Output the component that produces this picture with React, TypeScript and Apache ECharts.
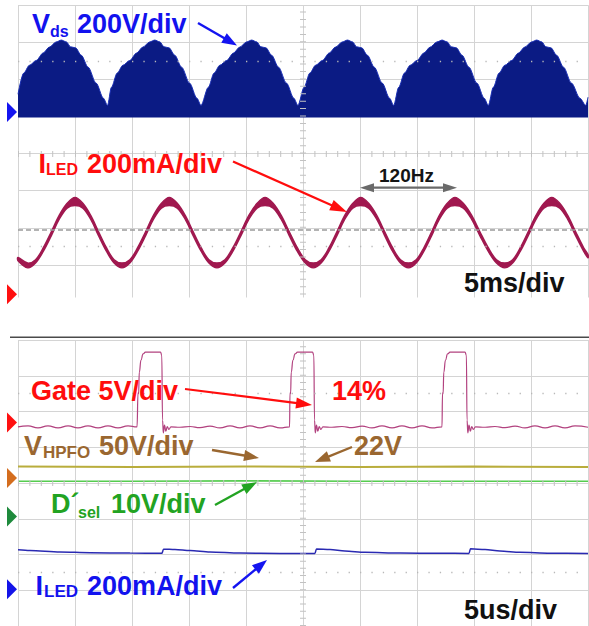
import React, { useEffect, useRef } from "react";
import * as echarts from "echarts";

const W = 589;
const H = 626;

// ---------- top screen: 5 ms/div, values in divisions from the screen bottom ----------
const vdsTime = [
  0, 0.5, 1.0, 1.6, 2.2, 2.75, 3.35, 3.8, 4.25, 4.6, 5.05, 5.55, 6.15, 6.85, 7.5, 7.85,
  8.2, 8.7, 9.2, 9.8, 10.4, 10.95, 11.55, 12.0, 12.45, 12.8, 13.25, 13.75, 14.35, 15.05, 15.7, 16.05,
  16.7, 17.2, 17.7, 18.3, 18.9, 19.45, 20.05, 20.5, 20.95, 21.3, 21.75, 22.25, 22.85, 23.55, 24.2, 24.55,
  25.1, 25.6, 26.1, 26.7, 27.3, 27.85, 28.45, 28.9, 29.35, 29.7, 30.15, 30.65, 31.25, 31.95, 32.6, 32.95,
  33.4, 33.9, 34.4, 35.0, 35.6, 36.15, 36.75, 37.2, 37.65, 38.0, 38.45, 38.95, 39.55, 40.25, 40.9, 41.25,
  41.7, 42.2, 42.7, 43.3, 43.9, 44.45, 45.05, 45.5, 45.95, 46.3, 46.75, 47.25, 47.85, 48.55, 49.3, 49.8, 50,
];
const vdsEnvelope = [
  5.6, 6.17, 6.38, 6.51, 6.71, 6.87, 7.01, 7.06, 7.01, 6.88, 6.85, 6.65, 6.33, 5.9, 5.49, 5.3,
  5.79, 6.17, 6.38, 6.51, 6.71, 6.87, 7.01, 7.06, 7.01, 6.88, 6.85, 6.65, 6.33, 5.9, 5.49, 5.3,
  5.79, 6.17, 6.38, 6.51, 6.71, 6.87, 7.01, 7.06, 7.01, 6.88, 6.85, 6.65, 6.33, 5.9, 5.49, 5.3,
  5.79, 6.17, 6.38, 6.51, 6.71, 6.87, 7.01, 7.06, 7.01, 6.88, 6.85, 6.65, 6.33, 5.9, 5.49, 5.3,
  5.79, 6.17, 6.38, 6.51, 6.71, 6.87, 7.01, 7.06, 7.01, 6.88, 6.85, 6.65, 6.33, 5.9, 5.49, 5.3,
  5.79, 6.17, 6.38, 6.51, 6.71, 6.87, 7.01, 7.06, 7.01, 6.88, 6.85, 6.65, 6.33, 5.9, 5.49, 5.3, 5.52,
];
const VDS_BASE = 4.97;

const iledTime = [
  0, 0.85,
  1.54, 2.23, 2.93, 3.62, 4.31, 5.0, 5.69, 6.37, 7.06, 7.75, 8.43, 9.12,
  9.81, 10.5, 11.2, 11.89, 12.58, 13.27, 13.97, 14.66, 15.36, 16.06, 16.75, 17.45,
  18.15, 18.86, 19.56, 20.26, 20.97, 21.67, 22.38, 23.08, 23.79, 24.49, 25.2, 25.9,
  26.59, 27.29, 27.98, 28.67, 29.37, 30.06, 30.76, 31.46, 32.16, 32.85, 33.55, 34.25,
  34.93, 35.61, 36.29, 36.97, 37.65, 38.33, 39.06, 39.79, 40.51, 41.24, 41.97, 42.7,
  43.39, 44.07, 44.76, 45.45, 46.13, 46.82,
  47.52, 48.21, 48.91, 49.61, 50.0,
];
const iledUpper = [
  1.2, 1.05,
  1.14, 1.47, 1.9, 2.34, 2.66, 2.82, 2.66, 2.34, 1.9, 1.47, 1.14, 1.05,
  1.14, 1.47, 1.9, 2.34, 2.66, 2.82, 2.66, 2.34, 1.9, 1.47, 1.14, 1.05,
  1.14, 1.47, 1.9, 2.34, 2.66, 2.82, 2.66, 2.34, 1.9, 1.47, 1.14, 1.05,
  1.14, 1.47, 1.9, 2.34, 2.66, 2.82, 2.66, 2.34, 1.9, 1.47, 1.14, 1.05,
  1.14, 1.47, 1.9, 2.34, 2.66, 2.82, 2.66, 2.34, 1.9, 1.47, 1.14, 1.05,
  1.14, 1.47, 1.9, 2.34, 2.66, 2.82,
  2.66, 2.34, 1.9, 1.47, 1.28,
];
const iledLower = [
  1.11, 0.92,
  1.05, 1.37, 1.79, 2.23, 2.53, 2.6, 2.53, 2.23, 1.79, 1.37, 1.05, 0.92,
  1.05, 1.37, 1.79, 2.23, 2.53, 2.6, 2.53, 2.23, 1.79, 1.37, 1.05, 0.92,
  1.05, 1.37, 1.79, 2.23, 2.53, 2.6, 2.53, 2.23, 1.79, 1.37, 1.05, 0.92,
  1.05, 1.37, 1.79, 2.23, 2.53, 2.6, 2.53, 2.23, 1.79, 1.37, 1.05, 0.92,
  1.05, 1.37, 1.79, 2.23, 2.53, 2.6, 2.53, 2.23, 1.79, 1.37, 1.05, 0.92,
  1.05, 1.37, 1.79, 2.23, 2.53, 2.6,
  2.53, 2.23, 1.79, 1.37, 1.19,
];
const ILED_REF_LEVEL = 1.96;

// ---------- bottom screen: 5 us/div ----------
const gateTime = [
  0, 0.88, 1.75, 2.63, 3.51, 4.39, 5.26, 6.14, 7.02, 7.89, 8.77, 9.65, 10.44,
  10.53, 10.58, 10.64, 10.79, 10.97, 11.18, 12.5, 12.61, 12.68, 12.75, 12.85, 12.97, 13.09, 13.23, 13.42,
  14.21, 15.09, 15.96, 16.84, 17.72, 18.6, 19.47, 20.35, 21.23, 22.11, 22.98, 23.82,
  23.86, 23.91, 23.97, 24.12, 24.3, 24.52, 25.83, 25.95, 26.01, 26.08, 26.18, 26.3, 26.42, 26.56, 26.75,
  27.54, 28.42, 29.3, 30.18, 31.05, 31.93, 32.81, 33.68, 34.56, 35.44, 36.32, 37.19,
  37.24, 37.29, 37.35, 37.5, 37.68, 37.9, 39.21, 39.33, 39.39, 39.46, 39.56, 39.68, 39.8, 39.94, 40.13,
  40.97, 41.84, 42.72, 43.6, 44.47, 45.35, 46.23, 47.11, 47.98, 48.86, 50.0,
];
const gateVal = [
  5.57, 5.6, 5.54, 5.6, 5.54, 5.6, 5.54, 5.6, 5.54, 5.6, 5.54, 5.6, 5.57,
  6.52, 6.5, 7.1, 7.44, 7.61, 7.66, 7.66, 7.58, 5.76, 5.4, 5.62, 5.45, 5.58, 5.5, 5.57,
  5.56, 5.58, 5.55, 5.59, 5.54, 5.6, 5.54, 5.6, 5.54, 5.6, 5.54, 5.57,
  6.52, 6.5, 7.1, 7.44, 7.61, 7.66, 7.66, 7.58, 5.76, 5.4, 5.62, 5.45, 5.58, 5.5, 5.57,
  5.56, 5.58, 5.55, 5.59, 5.54, 5.6, 5.54, 5.6, 5.54, 5.6, 5.54, 5.57,
  6.52, 6.5, 7.1, 7.44, 7.61, 7.66, 7.66, 7.58, 5.76, 5.4, 5.62, 5.45, 5.58, 5.5, 5.57,
  5.56, 5.58, 5.55, 5.59, 5.54, 5.6, 5.54, 5.6, 5.54, 5.6, 5.56,
];
const hpfoTime = [0, 10, 20, 30, 40, 50];
const hpfoVal = [4.46, 4.45, 4.46, 4.45, 4.46, 4.45];
const dselTime = [0, 10, 20, 30, 40, 50];
const dselVal = [4.05, 4.05, 4.06, 4.05, 4.05, 4.05];
const iledBTime = [
  0, 1.05, 3.68, 6.32, 9.82, 12.63, 12.76, 13.77, 15.09, 16.84, 19.47, 22.98, 26.05,
  26.18, 27.37, 28.68, 30.44, 33.51, 37.02, 39.56, 39.69, 40.97, 42.28, 44.04, 46.67, 50.0,
];
const iledBVal = [
  2.13, 2.11, 2.07, 2.05, 2.04, 2.035, 2.15, 2.14, 2.11, 2.07, 2.04, 2.03, 2.03,
  2.155, 2.14, 2.1, 2.06, 2.04, 2.035, 2.03, 2.16, 2.14, 2.1, 2.06, 2.035, 2.03,
];

// channel ground markers (divisions from screen bottom)
const topMarkerLevels = [5.12, 0.21];
const bottomMarkerLevels = [5.69, 4.14, 3.06, 1.03];

// ---------- styling / layout ----------
const GT = { left: 18, top: 5.2, width: 570, height: 296.8 };
const GB = { left: 18, top: 340, width: 570, height: 286 };
const GRID_COLOR = "#d4d4d4";
const TICK_COLOR = "#c2c2c2";
const FONT = '"Liberation Sans", Arial, Helvetica, sans-serif';
const C_BLUE_TXT = "#1212ee";
const C_RED = "#ff0d0d";
const C_BROWN = "#9a6730";
const C_GREEN = "#22a322";
const C_VDS = "#0b1b84";
const C_ILED = "#a0184f";
const C_GATE = "#b2427f";
const C_HPFO = "#b9ad3c";
const C_DSEL = "#55cc4f";
const C_ILEDB = "#2a2ab2";

const zip = (t: number[], v: number[]) => t.map((x, i) => [x, v[i]]);

function txt(text: string, x: number, base: number, size: number, color: string) {
  return {
    type: "text",
    z: 100,
    x,
    y: base - 0.3465 * size,
    style: {
      text,
      fill: color,
      fontSize: size,
      fontWeight: "bold",
      fontFamily: FONT,
      align: "left",
      verticalAlign: "middle",
    },
  };
}

function arrow(
  x1: number, y1: number, x2: number, y2: number, color: string,
  w = 2.4, L = 14, hw = 5.5, both = false
) {
  const dx = x2 - x1, dy = y2 - y1, len = Math.hypot(dx, dy);
  const ux = dx / len, uy = dy / len, px = -uy, py = ux;
  const head = (tx: number, ty: number, sx: number, sy: number) => ({
    type: "polygon",
    z: 100,
    shape: {
      points: [
        [tx, ty],
        [tx - sx * L + px * hw, ty - sy * L + py * hw],
        [tx - sx * L - px * hw, ty - sy * L - py * hw],
      ],
    },
    style: { fill: color },
  });
  const sx1 = both ? x1 + ux * L * 0.7 : x1;
  const sy1 = both ? y1 + uy * L * 0.7 : y1;
  const els: any[] = [
    {
      type: "line",
      z: 100,
      shape: { x1: sx1, y1: sy1, x2: x2 - ux * L * 0.7, y2: y2 - uy * L * 0.7 },
      style: { stroke: color, lineWidth: w },
    },
    head(x2, y2, ux, uy),
  ];
  if (both) els.push(head(x1, y1, -ux, -uy));
  return els;
}

function marker(grid: typeof GT, level: number, color: string) {
  const y = grid.top + (8 - level) * (grid.height / 8);
  return {
    type: "polygon",
    z: 101,
    shape: { points: [[7, y - 10], [17, y], [7, y + 10]] },
    style: { fill: color },
  };
}

function axes(gridIndex: number) {
  return {
    x: {
      gridIndex, type: "value", min: 0, max: 50, interval: 5,
      axisLine: { show: false }, axisTick: { show: false }, axisLabel: { show: false },
      splitLine: { show: true, lineStyle: { color: GRID_COLOR, width: 1 } },
    },
    y: {
      gridIndex, type: "value", min: 0, max: 8, interval: 1,
      axisLine: { show: false }, axisTick: { show: false }, axisLabel: { show: false },
      splitLine: { show: true, lineStyle: { color: GRID_COLOR, width: 1 } },
    },
  };
}

function graticule(gridIndex: number, divY: number, extra: any[] = []) {
  return {
    type: "line",
    xAxisIndex: gridIndex,
    yAxisIndex: gridIndex,
    data: [[0, -1]],
    showSymbol: false,
    lineStyle: { opacity: 0 },
    silent: true,
    z: 1,
    markLine: {
      silent: true,
      symbol: "none",
      label: { show: false },
      animation: false,
      data: [
        { yAxis: 4, lineStyle: { color: TICK_COLOR, width: 6, type: [1, 10.4] } },
        { xAxis: 25, lineStyle: { color: TICK_COLOR, width: 6, type: [1, divY / 5 - 1] } },
        { yAxis: 6.5, lineStyle: { color: "#b8b8b8", width: 1.3, type: [1.3, 10.1] } },
        { yAxis: 1.5, lineStyle: { color: "#b8b8b8", width: 1.3, type: [1.3, 10.1] } },
        ...extra,
      ],
    },
  };
}

function buildOption() {
  const a0 = axes(0);
  const a1 = axes(1);
  const graphics: any[] = [
    // the top screen is cut just above its last division line
    { type: "rect", z: 50, shape: { x: 14, y: 297.6, width: 580, height: 8 }, style: { fill: "#fff" } },
    { type: "line", z: 50, shape: { x1: 10, y1: 337.3, x2: 589, y2: 337.3 }, style: { stroke: "#4a4a4a", lineWidth: 1.4 } },
    marker(GT, topMarkerLevels[0], "#1414f0"),
    marker(GT, topMarkerLevels[1], "#ff1010"),
    marker(GB, bottomMarkerLevels[0], "#ff1010"),
    marker(GB, bottomMarkerLevels[1], "#d46d1e"),
    marker(GB, bottomMarkerLevels[2], "#1e8a3c"),
    marker(GB, bottomMarkerLevels[3], "#1414e8"),
    // top screen labels
    txt("V", 32, 33.5, 27, C_BLUE_TXT),
    txt("ds", 50, 37, 16, C_BLUE_TXT),
    txt("200V/div", 77, 33.5, 27, C_BLUE_TXT),
    ...arrow(198, 23, 237, 45.5, "#1414f0", 2.4, 15, 5.5),
    txt("I", 38.5, 173, 27, C_RED),
    txt("LED", 46, 175.5, 16, C_RED),
    txt("200mA/div", 87, 173, 27, C_RED),
    ...arrow(233, 161.5, 347, 212, C_RED, 2.2, 17, 5.5),
    txt("120Hz", 379, 182, 19, "#141414"),
    ...arrow(360, 187.7, 457, 187.7, "#6a6a6a", 2.2, 14, 4.5, true),
    txt("5ms/div", 464, 292, 27, "#111"),
    // bottom screen labels
    txt("Gate 5V/div", 31, 400, 27, C_RED),
    ...arrow(185, 389, 312, 405, C_RED, 2.2, 16, 5.5),
    txt("14%", 332, 400, 27, C_RED),
    txt("V", 24, 455, 27, C_BROWN),
    txt("HPFO", 43, 458, 17, C_BROWN),
    txt("50V/div", 99, 455, 27, C_BROWN),
    ...arrow(212, 450, 259, 458, C_BROWN, 2.4, 15, 5.5),
    txt("22V", 354, 455, 27, C_BROWN),
    ...arrow(352, 447, 315, 462, C_BROWN, 2.4, 15, 5.5),
    txt("D\u00b4", 51, 513, 27, C_GREEN),
    txt("sel", 78, 518, 16, C_GREEN),
    txt("10V/div", 111, 513, 27, C_GREEN),
    ...arrow(215, 505, 257, 482, C_GREEN, 2.4, 15, 5.5),
    txt("I", 35.5, 595, 27, C_BLUE_TXT),
    txt("LED", 44, 597.5, 17, C_BLUE_TXT),
    txt("200mA/div", 87, 595, 27, C_BLUE_TXT),
    ...arrow(233, 588, 267, 560, "#1414f0", 2.4, 15, 5.5),
    txt("5us/div", 464, 619, 27, "#111"),
  ];

  return {
    animation: false,
    backgroundColor: "#fff",
    grid: [
      { ...GT, containLabel: false },
      { ...GB, containLabel: false },
    ],
    xAxis: [a0.x, a1.x],
    yAxis: [a0.y, a1.y],
    series: [
      graticule(0, GT.height / 8, [
        { yAxis: ILED_REF_LEVEL, lineStyle: { color: "#9a9a9a", width: 1.6, type: [5, 3] } },
      ]),
      graticule(1, GB.height / 8),
      {
        name: "Vds",
        type: "line",
        xAxisIndex: 0,
        yAxisIndex: 0,
        data: zip(vdsTime, vdsEnvelope),
        smooth: 0.3,
        smoothMonotone: "x",
        showSymbol: false,
        lineStyle: { color: "#1a2fb4", width: 1 },
        areaStyle: { color: C_VDS, opacity: 1, origin: VDS_BASE },
        z: 3,
      },
      {
        name: "ILED band",
        type: "custom",
        coordinateSystem: "cartesian2d",
        xAxisIndex: 0,
        yAxisIndex: 0,
        data: [[0, 0]],
        z: 4,
        renderItem: (_params: any, api: any) => {
          const up = iledTime.map((t, i) => api.coord([t, iledUpper[i]]));
          const lo = iledTime.map((t, i) => api.coord([t, iledLower[i]])).reverse();
          return {
            type: "polygon",
            shape: { points: up.concat(lo), smooth: 0.35 },
            style: { fill: C_ILED, stroke: C_ILED, lineWidth: 1.4 },
          };
        },
      },
      {
        name: "Gate",
        type: "line",
        xAxisIndex: 1,
        yAxisIndex: 1,
        data: zip(gateTime, gateVal),
        smooth: 0.5,
        smoothMonotone: "x",
        showSymbol: false,
        lineStyle: { color: C_GATE, width: 1.2 },
        z: 3,
      },
      {
        name: "VHPFO",
        type: "line",
        xAxisIndex: 1,
        yAxisIndex: 1,
        data: zip(hpfoTime, hpfoVal),
        showSymbol: false,
        lineStyle: { color: C_HPFO, width: 2 },
        z: 3,
      },
      {
        name: "Dsel",
        type: "line",
        xAxisIndex: 1,
        yAxisIndex: 1,
        data: zip(dselTime, dselVal),
        showSymbol: false,
        lineStyle: { color: C_DSEL, width: 1.6 },
        z: 3,
      },
      {
        name: "ILED",
        type: "line",
        xAxisIndex: 1,
        yAxisIndex: 1,
        data: zip(iledBTime, iledBVal),
        smooth: 0.3,
        smoothMonotone: "x",
        showSymbol: false,
        lineStyle: { color: C_ILEDB, width: 1.5 },
        z: 3,
      },
    ],
    graphic: { elements: graphics },
  };
}

export default function App() {
  const ref = useRef<HTMLDivElement>(null);
  useEffect(() => {
    if (!ref.current) return;
    const chart = echarts.init(ref.current, null, { renderer: "svg", width: W, height: H });
    chart.setOption(buildOption() as any);
    return () => chart.dispose();
  }, []);
  return (
    <div
      ref={ref}
      style={{ position: "fixed", left: 0, top: 0, width: W, height: H, background: "#fff" }}
    />
  );
}
